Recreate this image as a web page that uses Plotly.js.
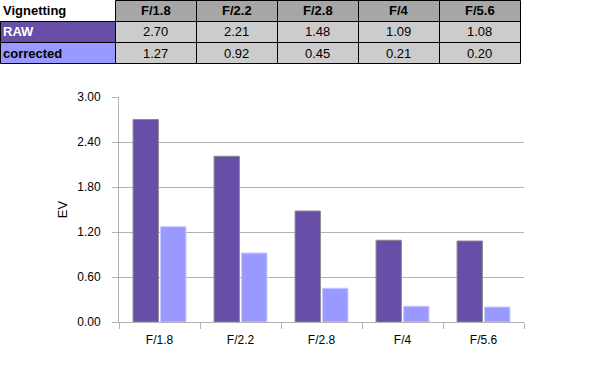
<!DOCTYPE html>
<html>
<head>
<meta charset="utf-8">
<script src="https://cdn.plot.ly/plotly-3.0.1.min.js"></script>
<style>html,body{margin:0;padding:0;background:#fff;}#chart{width:602px;height:368px;}</style>
</head>
<body>
<div id="chart"></div>
<script>
const categories = ['F/1.8', 'F/2.2', 'F/2.8', 'F/4', 'F/5.6'];
const seriesNames = ['RAW', 'corrected'];
const rawValues = [2.70, 2.21, 1.48, 1.09, 1.08];
const correctedValues = [1.27, 0.92, 0.45, 0.21, 0.20];
const tableTitle = 'Vignetting';
const yTicks = [0, 0.6, 1.2, 1.8, 2.4, 3.0];

const W = 602, H = 368;
const FONT = 'Liberation Sans, Arial, sans-serif';
const rawColor = '#674ea7';
const corrColor = '#9999ff';

// pixel -> paper helpers (margins are zero, so paper == page)
const px = x => x / W;
const py = y => 1 - y / H;

// table geometry
const colEdges = [0, 115, 196, 277, 358, 439, 520];
const rowEdges = [0, 21, 42, 63];

const shapes = [];
const annotations = [];
const rowData = [rawValues, correctedValues];
const rowFill = [rawColor, corrColor];
const rowLabelColor = ['#ffffff', '#000000'];

function cell(c, r, fill, text, opts) {
  const x0 = colEdges[c], x1 = colEdges[c + 1], y0 = rowEdges[r], y1 = rowEdges[r + 1];
  if (fill) {
    shapes.push({type: 'rect', xref: 'paper', yref: 'paper', layer: 'below',
      x0: px(x0 + 0.5), x1: px(x1 + 0.5), y0: py(y0 + 0.5), y1: py(y1 + 0.5),
      fillcolor: fill, line: {color: opts.border ? '#000000' : 'rgba(0,0,0,0)', width: opts.border ? 1 : 0}});
  }
  const left = opts.align === 'left';
  annotations.push({xref: 'paper', yref: 'paper', showarrow: false,
    x: left ? px(x0 + 1) : px((x0 + x1) / 2), xanchor: left ? 'left' : 'center',
    y: py((y0 + y1) / 2 + 0.5), yanchor: 'middle',
    text: text, font: {family: FONT, size: 13, color: opts.color || '#000000'}});
}

// header
cell(0, 0, null, '<b>' + tableTitle + '</b>', {align: 'left'});
categories.forEach((c, i) => cell(i + 1, 0, '#a6a6a6', '<b>' + c + '</b>', {border: true}));
// rows
seriesNames.forEach((name, r) => {
  cell(0, r + 1, rowFill[r], '<b>' + name + '</b>', {align: 'left', border: true, color: rowLabelColor[r]});
  categories.forEach((c, i) => cell(i + 1, r + 1, '#cccccc', rowData[r][i].toFixed(2), {border: true}));
});

const barRaw = {
  type: 'bar', x: categories, y: rawValues, name: seriesNames[0],
  marker: {color: rawColor, line: {color: '#8a8a8a', width: 1}},
  hoverinfo: 'skip'
};
const barCorr = {
  type: 'bar', x: categories, y: correctedValues, name: seriesNames[1],
  marker: {color: corrColor, line: {color: '#c8c8ff', width: 1}},
  hoverinfo: 'skip'
};

const layout = {
  width: W, height: H,
  margin: {l: 0, r: 0, t: 0, b: 0, pad: 0},
  paper_bgcolor: '#ffffff', plot_bgcolor: '#ffffff',
  showlegend: false,
  barmode: 'group', bargap: 0.32, bargroupgap: 0.08,
  font: {family: FONT, size: 12, color: '#000000'},
  xaxis: {
    domain: [px(119), px(524)],
    showline: true, linecolor: '#b3b3b3', linewidth: 1,
    ticks: 'outside', tickson: 'boundaries', ticklen: 6, tickcolor: '#b3b3b3',
    ticklabelstandoff: 7,
    showgrid: false, zeroline: false,
    tickfont: {family: FONT, size: 12, color: '#000000'},
    automargin: false, fixedrange: true
  },
  yaxis: {
    domain: [py(322), py(97)],
    range: [0, 3],
    tickvals: yTicks, tickformat: '.2f',
    showline: true, linecolor: '#b3b3b3', linewidth: 1,
    ticks: 'outside', ticklen: 6, tickcolor: '#b3b3b3',
    ticklabelstandoff: 9,
    showgrid: true, gridcolor: '#b3b3b3', gridwidth: 1,
    zeroline: false,
    tickfont: {family: FONT, size: 12, color: '#000000'},
    title: {text: 'EV', font: {family: FONT, size: 13, color: '#000000'}, standoff: 6},
    automargin: false, fixedrange: true
  },
  shapes: shapes,
  annotations: annotations
};

Plotly.newPlot('chart', [barRaw, barCorr], layout, {displayModeBar: false, staticPlot: true});
</script>
</body>
</html>
